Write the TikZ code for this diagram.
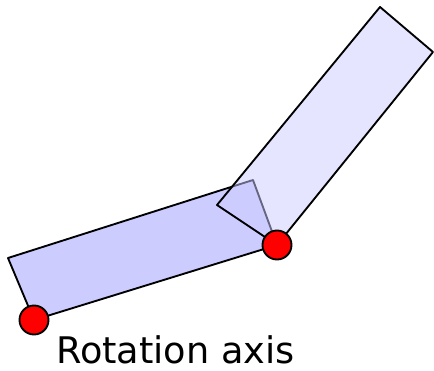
\documentclass[tikz,border=0pt]{standalone}
\usepackage{fontspec}
\setmainfont{DejaVu Sans}
\begin{document}
\begin{tikzpicture}[x=0.75pt, y=-0.75pt, line join=round, line cap=round]
	% Styles
	\tikzset{
		arm/.style={draw=black, line width=1.4pt, fill=blue!20},
		axisdot/.style={draw=black, line width=1.4pt, fill=red},
	}
	\def\rdot{14.5}

	\useasboundingbox (0,0) rectangle (434,370);

	% Lower arm corners
	\coordinate (A) at (34,320);
	\coordinate (B) at (277,245);
	\coordinate (C) at (253,180);
	\coordinate (D) at (8,258);

	% Upper arm corners (rotated about B)
	\coordinate (E) at (217,205);
	\coordinate (F) at (380,7);
	\coordinate (G) at (433,52);

	% Lower arm
	\path[arm] (A) -- (B) -- (C) -- (D) -- cycle;

	% Upper arm (semi transparent)
	\path[arm, fill opacity=0.5] (B) -- (E) -- (F) -- (G) -- cycle;

	% Rotation axes
	\path[axisdot] (A) circle (\rdot);
	\path[axisdot] (B) circle (\rdot);

	% Label
	\node[anchor=base west, inner sep=0pt, font=\fontsize{27.5}{33}\selectfont] (label) at (56,363) {Rotation axis};
\end{tikzpicture}
\end{document}
